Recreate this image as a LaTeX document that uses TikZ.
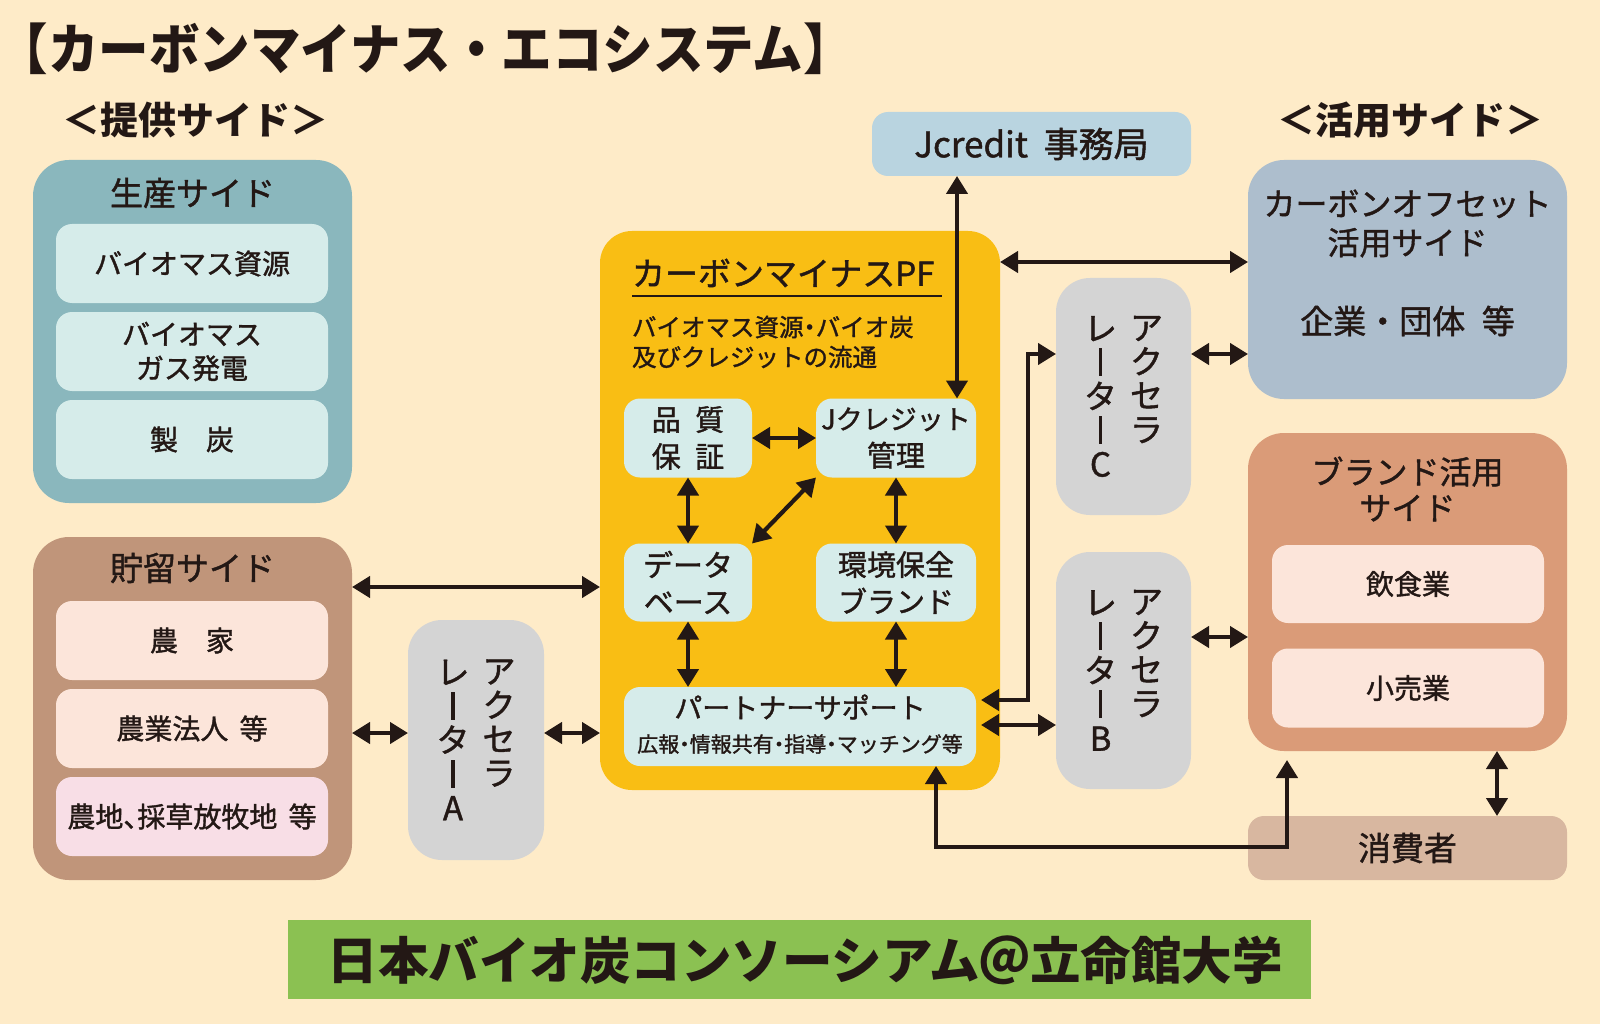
\documentclass[tikz,border=0pt]{standalone}
\usepackage{fontspec}
\usepackage{graphicx}
\setmainfont{Noto Sans CJK JP}
\newfontfamily\medjp{Noto Sans CJK JP}[FakeBold=1.3]
\usetikzlibrary{arrows.meta}
\definecolor{bg}{HTML}{FEEBC8}
\definecolor{ink}{HTML}{231815}
\definecolor{seiOut}{HTML}{8AB7BD}
\definecolor{paleCyan}{HTML}{D6ECEA}
\definecolor{choOut}{HTML}{C0957A}
\definecolor{peach}{HTML}{FCE5DA}
\definecolor{pinkish}{HTML}{F8DEE6}
\definecolor{accGray}{HTML}{D4D4D4}
\definecolor{pfYellow}{HTML}{F9BE14}
\definecolor{jcBlue}{HTML}{B9D4E0}
\definecolor{offBlue}{HTML}{ADBECD}
\definecolor{brandOr}{HTML}{DA9B78}
\definecolor{consum}{HTML}{D8B7A0}
\definecolor{bannerGreen}{HTML}{8BC152}
\newcommand\fsz[2]{\medjp\fontsize{#1}{#2}\selectfont}
\newcommand\bfsz[2]{\rmfamily\bfseries\fontsize{#1}{#2}\selectfont}
\newcommand\hdot{\makebox[0.5em]{・}}
\newcommand\vbar{\rule[-0.04em]{0.1em}{0.84em}}
\begin{document}
\begin{tikzpicture}[x=1pt,y=-1pt,
  every node/.style={text=ink, inner sep=0pt, outer sep=0pt},
  panel/.style={rectangle, rounded corners=36pt, draw=none},
  card/.style={rectangle, rounded corners=16pt, draw=none, align=center},
  accbox/.style={rectangle, rounded corners=34pt, fill=accGray},
  vcol/.style={align=center, font=\fsz{33}{34}},
  arr/.style={draw=ink, line width=4.2pt, {Triangle[length=18pt,width=21pt]}-{Triangle[length=18pt,width=21pt]}}]
\fill[bg] (0,0) rectangle (1600,1024);
\useasboundingbox (0,0) rectangle (1600,1024);

% headings
\node[anchor=west, font=\bfsz{50.5}{60}] (title) at (-2,49) {\scalebox{1}[1.08]{【カーボンマイナス・エコシステム】}};
\node[font=\bfsz{38}{44}] (provH) at (195,120) {＜提供サイド＞};
\node[font=\bfsz{38}{44}] (useH) at (1410,120) {＜活用サイド＞};

% production side
\node[panel, fill=seiOut, minimum width=319pt, minimum height=343pt] (sei) at (192.5,331.5) {};
\node[font=\fsz{33}{40}] (seiT) at (192.5,193) {生産サイド};
\node[card, fill=paleCyan, minimum width=272pt, minimum height=79pt, font=\fsz{28}{34}] (sei1) at (192,263.5) {バイオマス資源};
\node[card, fill=paleCyan, minimum width=272pt, minimum height=79pt, font=\fsz{28}{34}] (sei2) at (192,351.5) {バイオマス\\ガス発電};
\node[card, fill=paleCyan, minimum width=272pt, minimum height=79pt, font=\fsz{28}{34}] (sei3) at (192,439.5) {製　炭};

% storage side
\node[panel, fill=choOut, minimum width=319pt, minimum height=343pt] (cho) at (192.5,708.5) {};
\node[font=\fsz{33}{40}] (choT) at (192.5,568) {貯留サイド};
\node[card, fill=peach, minimum width=272pt, minimum height=79pt, font=\fsz{28}{34}] (cho1) at (192,640.5) {農　家};
\node[card, fill=peach, minimum width=272pt, minimum height=79pt, font=\fsz{28}{34}] (cho2) at (192,728.5) {農業法人\hspace{0.4em}等};
\node[card, fill=pinkish, minimum width=272pt, minimum height=79pt, font=\fsz{28}{34}] (cho3) at (192,816.5) {農地\makebox[0.5em][l]{、}採草放牧地\hspace{0.4em}等};

% accelerator A
\node[accbox, minimum width=136pt, minimum height=240pt] (accA) at (476,740) {};
\node[vcol] (accA1) at (499,723) {ア\\ク\\セ\\ラ};
\node[vcol] (accA2) at (453,740) {レ\\\vbar\\タ\\\vbar\\A};

% platform
\node[panel, rounded corners=32pt, fill=pfYellow, minimum width=400pt, minimum height=559pt] (pf) at (800,510.5) {};
\node[anchor=west, font=\fsz{33}{40}] (pfT) at (632,273) {カーボンマイナスPF};
\draw[ink, line width=2.5pt] (632,296) -- (942,296);
\node[anchor=west, align=left, font=\fsz{24.5}{30}] (pfS) at (632,342) {バイオマス資源\hdot バイオ炭\\及びクレジットの流通};
\node[card, fill=paleCyan, minimum width=128pt, minimum height=79pt, font=\fsz{29}{37}] (qa) at (688,438) {品\hspace{.5em}質\\保\hspace{.5em}証};
\node[card, fill=paleCyan, minimum width=160pt, minimum height=79pt, font=\fsz{29}{37}] (jc) at (896,438) {{\fsz{27}{37}Jクレジット}\\管理};
\node[card, fill=paleCyan, minimum width=128pt, minimum height=78pt, font=\fsz{30}{37}] (db) at (688,582.5) {データ\\ベース};
\node[card, fill=paleCyan, minimum width=160pt, minimum height=78pt, font=\fsz{29}{37}] (env) at (896,582.5) {環境保全\\ブランド};
\node[card, fill=paleCyan, minimum width=352pt, minimum height=79pt] (ps) at (800,726.5) {};
\node[font=\fsz{28}{34}] (psT1) at (800,707) {パートナーサポート};
\node[font=\fsz{21}{26}] (psT2) at (800,744) {広報\hdot 情報共有\hdot 指導\hdot マッチング等};

\draw[arr] (qa.east) -- (jc.west);
\draw[arr] (qa.south) -- (db.north);
\draw[arr] (jc.south) -- (env.north);
\draw[arr] (db.south) -- (ps.north -| db.south);
\draw[arr] (env.south) -- (ps.north -| env.south);
\draw[arr] (db.north east) -- (jc.south west);

% Jcredit office
\node[card, fill=jcBlue, minimum width=319pt, minimum height=64pt, font=\fsz{35}{40}] (jcr) at (1031.5,144) {Jcredit\hspace{0.45em}事務局};
\coordinate (jx) at (957,0);
\draw[arr] (jcr.south -| jx) -- (jc.north -| jx);

% carbon offset side
\node[panel, fill=offBlue, minimum width=319pt, minimum height=239pt] (off) at (1407.5,279.5) {};
\node[font=\fsz{32}{39}, align=center] (offT) at (1407.5,223.5) {カーボンオフセット\\活用サイド};
\node[font=\fsz{33}{40}] (offS) at (1407.5,321) {企業・団体\hspace{0.5em}等};

% accelerators C and B
\node[accbox, minimum width=135pt, minimum height=237pt] (accC) at (1123.5,396.5) {};
\node[vcol] (accC1) at (1146.5,379.5) {ア\\ク\\セ\\ラ};
\node[vcol] (accC2) at (1100.5,396.5) {レ\\\vbar\\タ\\\vbar\\C};
\node[accbox, minimum width=135pt, minimum height=237pt] (accB) at (1123.5,670.5) {};
\node[vcol] (accB1) at (1146.5,653.5) {ア\\ク\\セ\\ラ};
\node[vcol] (accB2) at (1100.5,670.5) {レ\\\vbar\\タ\\\vbar\\B};

% brand side
\node[panel, fill=brandOr, minimum width=319pt, minimum height=318pt] (brand) at (1407.5,592) {};
\node[font=\fsz{32}{36}, align=center] (brandT) at (1407.5,489) {ブランド活用\\サイド};
\node[card, fill=peach, minimum width=272pt, minimum height=78pt, font=\fsz{28}{34}] (bi1) at (1408,584) {飲食業};
\node[card, fill=peach, minimum width=272pt, minimum height=79pt, font=\fsz{28}{34}] (bi2) at (1408,688) {小売業};

% consumers
\node[card, fill=consum, minimum width=319pt, minimum height=64pt, font=\fsz{33}{40}] (cons) at (1407.5,848) {消費者};

% connectors
\coordinate (yS) at (0,587);
\draw[arr] (cho.east |- yS) -- (pf.west |- yS);
\coordinate (yA) at (0,733);
\draw[arr] (cho.east |- yA) -- (accA.west |- yA);
\draw[arr] (accA.east |- yA) -- (pf.west |- yA);
\coordinate (yO) at (0,262);
\draw[arr] (pf.east |- yO) -- (off.west |- yO);
\coordinate (yC) at (0,354);
\draw[arr] (accC.east |- yC) -- (off.west |- yC);
\coordinate (yB) at (0,637);
\draw[arr] (accB.east |- yB) -- (brand.west |- yB);
\coordinate (xBC) at (1497,0);
\draw[arr] (brand.south -| xBC) -- (cons.north -| xBC);
\coordinate (psR) at ([xshift=5pt]ps.east);
\coordinate (eC1) at (1028,700);
\coordinate (eC2) at (1028,354);
\draw[arr] (psR |- eC1) -- (eC1) -- (eC2) -- (accC.west |- eC2);
\coordinate (yPB) at (0,725);
\draw[arr] (psR |- yPB) -- (accB.west |- yPB);
\coordinate (eB1) at (936,847);
\coordinate (eB2) at (1287,847);
\coordinate (eBtip) at (1287,760);
\draw[arr] (ps.south -| eB1) -- (eB1) -- (eB2) -- (eBtip);

% banner
\node[rectangle, fill=bannerGreen, minimum width=1023pt, minimum height=79pt] (ban) at (799.5,959.5) {};
\node[font=\bfsz{50.5}{60}] (banT) at (805,960) {日本バイオ炭コンソーシアム＠立命館大学};
\end{tikzpicture}
\end{document}
